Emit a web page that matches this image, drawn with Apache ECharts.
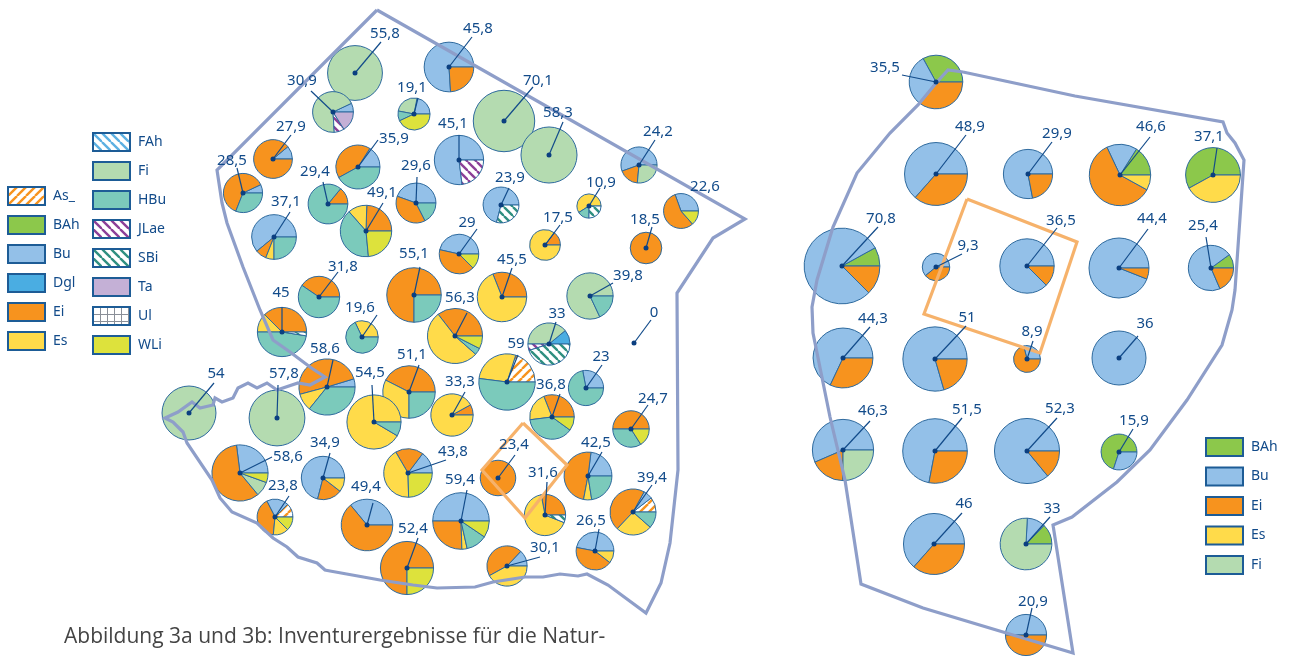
<!DOCTYPE html>
<html>
<head>
<meta charset="utf-8">
<title>Inventurergebnisse</title>
<script src="https://cdn.jsdelivr.net/npm/echarts@6/dist/echarts.min.js"></script>
<style>
  html, body { margin: 0; padding: 0; background: #fff; }
  #chart { width: 1293px; height: 657px; }
</style>
</head>
<body>
<div id="chart"></div>
<script>
// ==================== data: left map (3a) ====================

const leftValues = [55.8, 30.9, 19.1, 45.8, 70.1, 58.3, 27.9, 35.9, 45.1, 28.5, 29.4, 29.6, 49.1, 37.1, 29, 24.2, 22.6, 10.9, 23.9, 17.5, 18.5, 45.5, 39.8, 31.8, 55.1, 45, 19.6, 56.3, 33, 0, 59, 23, 36.8, 33.3, 24.7, 58.6, 51.1, 54.5, 57.8, 54, 42.5, 43.8, 23.4, 31.6, 39.4, 34.9, 58.6, 23.8, 49.4, 59.4, 26.5, 30.1, 52.4];
const leftX = [355, 333, 414, 449, 504, 549, 273, 358, 459, 243, 328, 416, 366, 274, 459, 639, 681, 589, 501, 545, 646, 502, 590, 319, 414, 282, 362, 455, 549, 634, 507, 586, 552, 452, 631, 327, 409, 374, 277, 189, 588, 408, 498, 545, 633, 323, 240, 275, 367, 461, 595, 507, 407];
const leftY = [73, 112, 114, 67, 121, 155, 159, 167, 160, 193, 204, 203, 231, 237, 254, 165, 211, 206, 205, 245, 248, 297, 296, 297, 295, 332, 337, 336, 344, 343, 382, 388, 417, 415, 429, 387, 392, 422, 418, 413, 476, 473, 478, 515, 512, 478, 473, 517, 525, 521, 551, 566, 568];
const leftShares = [
  { Fi: 100 }, { Bu: 7, Fi: 69, JLae: 8, Ta: 16 }, { Bu: 22, Fi: 25, HBu: 10, WLi: 43 }, { Bu: 76, Ei: 24 },
  { Fi: 100 }, { Fi: 100 }, { Bu: 11, Ei: 89 }, { Bu: 16, Ei: 42, HBu: 42 }, { Bu: 77, JLae: 23 },
  { Bu: 7, Ei: 62, HBu: 31 }, { Ei: 14, HBu: 86 }, { Bu: 44.5, Ei: 38, HBu: 17.5 },
  { Ei: 24.5, Es: 12, HBu: 40, WLi: 23.5 }, { Bu: 61, Ei: 8, Es: 6, HBu: 25 }, { Bu: 46.5, Ei: 41, WLi: 12.5 },
  { Bu: 55.5, Ei: 18, Fi: 26.5 }, { Bu: 30.5, Ei: 56, WLi: 13.5 }, { Es: 59, HBu: 16, SBi: 25 }, { Bu: 71, SBi: 29 },
  { Ei: 14.5, Es: 85.5 }, { Ei: 100 }, { Ei: 31, Es: 69 }, { Fi: 82, HBu: 18 }, { Ei: 40.5, HBu: 59.5 },
  { Ei: 75, HBu: 25 }, { Ei: 37.5, Es: 12.5, HBu: 47.5, SBi: 2.5 }, { Es: 32, HBu: 68 },
  { Ei: 35.5, Es: 53, HBu: 4, WLi: 7.5 }, { Dgl: 11, Fi: 39, JLae: 5, SBi: 45 }, {},
  { As: 20, Es: 28, HBu: 52 }, { Bu: 28, HBu: 72 }, { Ei: 31, Es: 21, HBu: 38, WLi: 10 }, { Ei: 8, Es: 92 },
  { Ei: 50, HBu: 34, WLi: 16 }, { Bu: 4.7, Ei: 49.5, Es: 10, HBu: 35.8 }, { Ei: 42.5, Es: 32.5, HBu: 25 },
  { Es: 91.5, HBu: 8.5 }, { Fi: 100 }, { Fi: 100 }, { Bu: 23, Ei: 49, Es: 5.5, HBu: 22.5 },
  { Bu: 14.7, Ei: 18.7, Es: 42, WLi: 24.6 }, { Ei: 100 }, { Ei: 28, Es: 66, SBi: 6 },
  { As: 10.5, Bu: 6.5, Ei: 46, Es: 25.5, HBu: 11.5 }, { Bu: 71, Ei: 18.5, Es: 10.5 }, { Bu: 27, Ei: 59, Fi: 8.5, WLi: 5.5 },
  { As: 12.5, Bu: 20, Ei: 41, Es: 14, WLi: 12.5 }, { Bu: 36, Ei: 64 }, { Bu: 50, Ei: 25.5, Es: 3, HBu: 12, WLi: 9.5 },
  { Bu: 47, Ei: 42.5, Es: 10.5 }, { Bu: 13, Ei: 45, Es: 42 }, { Ei: 75, WLi: 25 }
];

// ==================== data: right map (3b) ====================

const rightValues = [35.5, 48.9, 29.9, 46.6, 37.1, 70.8, 9.3, 36.5, 44.4, 25.4, 44.3, 51, 8.9, 36, 46.3, 51.5, 52.3, 15.9, 46, 33, 20.9];
const rightX = [936, 936, 1028, 1120, 1213, 842, 936, 1027, 1119, 1211, 843, 935, 1027, 1119, 843, 935, 1027, 1119, 934, 1026, 1026];
const rightY = [82, 174, 174, 175, 175, 266, 267, 266, 268, 268, 358, 359, 359, 358, 450, 451, 451, 452, 544, 544, 635];
const rightShares = [
  { BAh: 33, Bu: 31.5, Ei: 35.5 }, { Bu: 63.5, Ei: 36.5 }, { Bu: 78, Ei: 22 }, { BAh: 16, Bu: 16, Ei: 60, Es: 8 },
  { BAh: 58, Es: 42 }, { BAh: 8, Bu: 79.5, Ei: 12.5 }, { Bu: 61, Ei: 39 }, { Bu: 87.5, Ei: 12.5 }, { Bu: 94, Ei: 6 },
  { BAh: 10, Bu: 71.5, Ei: 18.5 }, { Bu: 68, Ei: 32 }, { Bu: 79.5, Ei: 20.5 }, { Bu: 29, Ei: 71 }, { Bu: 100 },
  { Bu: 56.5, Ei: 18.5, Fi: 25 }, { Bu: 72, Ei: 28 }, { Bu: 86, Ei: 14 }, { BAh: 70, Bu: 30 }, { Bu: 63.5, Ei: 36.5 },
  { BAh: 12.7, Bu: 11.5, Fi: 75.8 }, { Bu: 50, Ei: 50 }
];

const speciesNames = ['As', 'BAh', 'Bu', 'Dgl', 'Ei', 'Es', 'FAh', 'Fi', 'HBu', 'JLae', 'SBi', 'Ta', 'Ul', 'WLi'];
const legendLeftA = ['As_', 'BAh', 'Bu', 'Dgl', 'Ei', 'Es'];
const legendLeftB = ['FAh', 'Fi', 'HBu', 'JLae', 'SBi', 'Ta', 'Ul', 'WLi'];
const legendRight = ['BAh', 'Bu', 'Ei', 'Es', 'Fi'];

// ==================== label placement (pixels) ====================

const leftLabelX = [385, 302, 412, 478, 538, 558, 291, 394, 453, 232, 315, 416, 382, 286, 467, 658, 705, 601, 510, 558, 645, 512, 628, 343, 414, 281, 360, 460, 557, 654, 516, 601, 551, 460, 653, 325, 412, 370, 284, 216, 596, 453, 514, 543, 652, 325, 288, 283, 366, 460, 591, 545, 413];
const leftLabelY = [34, 81, 88, 29, 81, 113, 127, 139, 124, 161, 172, 166, 193, 202, 223, 132, 187, 183, 178, 218, 220, 260, 276, 267, 254, 293, 308, 298, 314, 313, 344, 357, 385, 382, 399, 349, 355, 373, 374, 374, 443, 452, 445, 473, 478, 443, 457, 486, 487, 480, 521, 548, 529];
const leftTipX = [381, 311, 418, 472, 533, 563, 291, 378, 459, 237, 323, 417, 383, 290, 477, 655, 681, 600, 509, 560, 652, 512, 613, 338, 420, 282, 377, 467, 556, 651, 518, 602, 560, 465, 648, 333, 419, 372, 278, 214, 602, 446, 515, 547, 652, 330, 272, 289, 373, 467, 599, 540, 418];
const leftTipY = [42, 91, 98, 37, 87, 122, 135, 140, 135, 168, 182, 177, 203, 212, 229, 140, 211, 188, 188, 225, 227, 268, 283, 272, 267, 307, 315, 313, 322, 320, 355, 365, 394, 392, 405, 360, 365, 385, 385, 383, 452, 460, 455, 482, 485, 453, 457, 496, 503, 490, 529, 557, 538];

const rightLabelX = [885, 970, 1057, 1151, 1209, 881, 968, 1061, 1152, 1203, 873, 967, 1032, 1145, 873, 967, 1060, 1134, 964, 1052, 1033];
const rightLabelY = [68, 127, 134, 127, 137, 219, 246, 221, 219, 226, 319, 318, 332, 324, 411, 410, 409, 421, 504, 509, 602];
const rightTipX = [902, 966, 1052, 1150, 1217, 878, 962, 1057, 1148, 1206, 870, 966, 1033, 1138, 870, 962, 1057, 1133, 962, 1050, 1032];
const rightTipY = [75, 135, 142, 137, 148, 227, 254, 228, 229, 237, 327, 326, 341, 336, 421, 418, 418, 429, 513, 517, 608];

// ==================== map outlines ====================

const leftBorder = [[377, 10], [745, 219], [713, 238], [677, 293], [678, 470], [670, 543], [661, 583], [646, 613], [608, 585], [587, 574], [578, 576], [560, 574], [543, 577], [525, 577], [493, 582], [475, 587], [437, 588], [413, 585], [380, 580], [330, 571], [325, 570], [317, 563], [298, 557], [287, 547], [273, 538], [257, 523], [232, 512], [220, 498], [212, 480], [187, 443], [183, 432], [173, 422], [165, 418], [178, 412], [192, 402], [200, 408], [213, 405], [215, 398], [222, 402], [233, 398], [238, 388], [248, 383], [257, 388], [267, 383], [277, 390], [298, 383], [310, 385], [325, 377], [310, 367], [290, 352], [273, 340], [260, 310], [243, 267], [227, 223], [222, 203], [217, 170], [377, 10]];
const leftFrame = [[523, 423], [567, 465], [525, 518], [482, 470], [523, 423]];
const rightBorder = [[963, 72], [1075, 96], [1223, 122], [1227, 133], [1235, 143], [1244, 160], [1235, 290], [1232, 310], [1222, 345], [1187, 400], [1150, 450], [1117, 482], [1072, 517], [1053, 525], [1073, 653], [1003, 632], [923, 608], [861, 584], [845, 480], [830, 417], [813, 333], [812, 307], [817, 280], [833, 227], [857, 173], [890, 133], [918, 105], [937, 82], [948, 70], [963, 72]];
const rightFrame = [[967, 199], [1077, 242], [1040, 353], [924, 314], [967, 199]];

const captionText = 'Abbildung 3a und 3b: Inventurergebnisse für die Natur-';

// ==================== styles ====================

const inkColor = '#124b8a';
const borderColor = '#8e9ec9';
const frameColor = '#f6b26b';

// tile with diagonal stripes, tiles seamlessly
function makeHatch(color, dir) {
  const size = 9;
  const cv = document.createElement('canvas');
  cv.width = size;
  cv.height = size;
  const ctx = cv.getContext('2d');
  ctx.fillStyle = '#fff';
  ctx.fillRect(0, 0, size, size);
  ctx.strokeStyle = color;
  ctx.lineWidth = 2.4;
  for (let o = -size; o <= size; o += size) {
    ctx.beginPath();
    if (dir > 0) {
      ctx.moveTo(o, size);
      ctx.lineTo(o + size, 0);
    } else {
      ctx.moveTo(o, 0);
      ctx.lineTo(o + size, size);
    }
    ctx.stroke();
  }
  return { image: cv, repeat: 'repeat' };
}

function makeGrid(color) {
  const size = 7;
  const cv = document.createElement('canvas');
  cv.width = size;
  cv.height = size;
  const ctx = cv.getContext('2d');
  ctx.fillStyle = '#fff';
  ctx.fillRect(0, 0, size, size);
  ctx.fillStyle = color;
  ctx.fillRect(0, 0, size, 1);
  ctx.fillRect(0, 0, 1, size);
  return { image: cv, repeat: 'repeat' };
}

const speciesFill = {
  As: makeHatch('#f7931e', 1),
  BAh: '#8cc84b',
  Bu: '#93c0e8',
  Dgl: '#4aade2',
  Ei: '#f7931e',
  Es: '#ffdb4a',
  FAh: makeHatch('#5cb0e2', -1),
  Fi: '#b4dbb0',
  HBu: '#7bcabb',
  JLae: makeHatch('#8c3f98', -1),
  SBi: makeHatch('#2f8f80', -1),
  Ta: '#c4b0d6',
  Ul: makeGrid('#8a8f98'),
  WLi: '#dde23c'
};

// ==================== series builders ====================

function pieSeries(values, xs, ys, shares, scale) {
  return {
    type: 'custom',
    coordinateSystem: 'cartesian2d',
    z: 2,
    silent: true,
    data: values.map((v, i) => [xs[i], ys[i], v, i]),
    renderItem: (params, api) => {
      const center = api.coord([api.value(0), api.value(1)]);
      const r = scale * Math.sqrt(api.value(2)) * api.size([1, 0])[0];
      const share = shares[api.value(3)];
      const total = speciesNames.reduce((s, n) => s + (share[n] || 0), 0);
      const children = [];
      let angle = 0;
      // slices run counter-clockwise from east, in species order
      speciesNames.forEach(n => {
        if (!share[n]) return;
        const next = angle + share[n] / total * Math.PI * 2;
        children.push({
          type: 'sector',
          shape: { cx: center[0], cy: center[1], r: r, r0: 0, startAngle: -angle, endAngle: -next, clockwise: false },
          style: { fill: speciesFill[n], stroke: '#2e6a9e', lineWidth: 1 }
        });
        angle = next;
      });
      return { type: 'group', children: children };
    }
  };
}

function pathSeries(points, color, width) {
  return {
    type: 'custom',
    coordinateSystem: 'cartesian2d',
    z: 3,
    silent: true,
    data: [[0, 0]],
    renderItem: (params, api) => ({
      type: 'polyline',
      shape: { points: points.map(p => api.coord(p)) },
      style: { fill: 'none', stroke: color, lineWidth: width, blend: 'multiply' }
    })
  };
}

function labelSeries(values, xs, ys, labelX, labelY, tipX, tipY) {
  return {
    type: 'custom',
    coordinateSystem: 'cartesian2d',
    z: 4,
    silent: true,
    data: values.map((v, i) => [xs[i], ys[i], v, i]),
    renderItem: (params, api) => {
      const i = api.value(3);
      const center = api.coord([api.value(0), api.value(1)]);
      const tip = api.coord([tipX[i], tipY[i]]);
      const text = api.coord([labelX[i], labelY[i]]);
      const children = [{
        type: 'text',
        style: {
          x: text[0],
          y: text[1],
          text: String(api.value(2)).replace('.', ','),
          fill: inkColor,
          font: '15px "Noto Sans"',
          align: 'center',
          verticalAlign: 'middle'
        }
      }];
      // tip on the centre means this plot has no leader and no dot
      if (tipX[i] !== api.value(0) || tipY[i] !== api.value(1)) {
        children.push(
          {
            type: 'line',
            shape: { x1: center[0], y1: center[1], x2: tip[0], y2: tip[1] },
            style: { stroke: inkColor, lineWidth: 1.2 }
          },
          {
            type: 'circle',
            shape: { cx: center[0], cy: center[1], r: 2.5 },
            style: { fill: '#0b3f80' }
          }
        );
      }
      return { type: 'group', children: children };
    }
  };
}

// empty series, they only give the legends their swatches
function legendSeries(name, key) {
  return {
    type: 'scatter',
    name: name,
    data: [],
    itemStyle: { color: speciesFill[key], opacity: 1, borderColor: '#1d5c96', borderWidth: 1.2 }
  };
}

function makeLegend(names, left, top, gap) {
  return {
    data: names,
    orient: 'vertical',
    left: left,
    top: top,
    padding: 0,
    icon: 'rect',
    itemWidth: 37,
    itemHeight: 18,
    itemGap: gap,
    selectedMode: false,
    textStyle: { color: inkColor, fontFamily: 'Noto Sans', fontSize: 14, padding: [0, 0, 0, 3] }
  };
}

// ==================== chart ====================

const chart = echarts.init(document.getElementById('chart'));

const legendNames = new Set([...legendLeftA, ...legendLeftB, ...legendRight]);

chart.setOption({
  animation: false,
  backgroundColor: '#fff',
  title: {
    text: captionText,
    left: 64,
    top: 627,
    padding: 0,
    textStyle: { color: '#444', fontFamily: 'Open Sans', fontWeight: 'normal', fontSize: 21 }
  },
  grid: { left: 0, right: 0, top: 0, bottom: 0 },
  xAxis: { type: 'value', min: 0, max: 1293, show: false },
  yAxis: { type: 'value', min: 0, max: 657, inverse: true, show: false },
  legend: [
    makeLegend(legendLeftA, 7, 186, 9),
    makeLegend(legendLeftB, 92, 132, 9),
    makeLegend(legendRight, 1205, 437, 9.5)
  ],
  series: [
    pieSeries(leftValues, leftX, leftY, leftShares, 3.67),
    pieSeries(rightValues, rightX, rightY, rightShares, 4.5),
    pathSeries(leftBorder, borderColor, 3.2),
    pathSeries(rightBorder, borderColor, 3.2),
    pathSeries(leftFrame, frameColor, 3.2),
    pathSeries(rightFrame, frameColor, 3.2),
    labelSeries(leftValues, leftX, leftY, leftLabelX, leftLabelY, leftTipX, leftTipY),
    labelSeries(rightValues, rightX, rightY, rightLabelX, rightLabelY, rightTipX, rightTipY),
    ...[...legendNames].map(n => legendSeries(n, n.replace('_', '')))
  ]
});
</script>
</body>
</html>
